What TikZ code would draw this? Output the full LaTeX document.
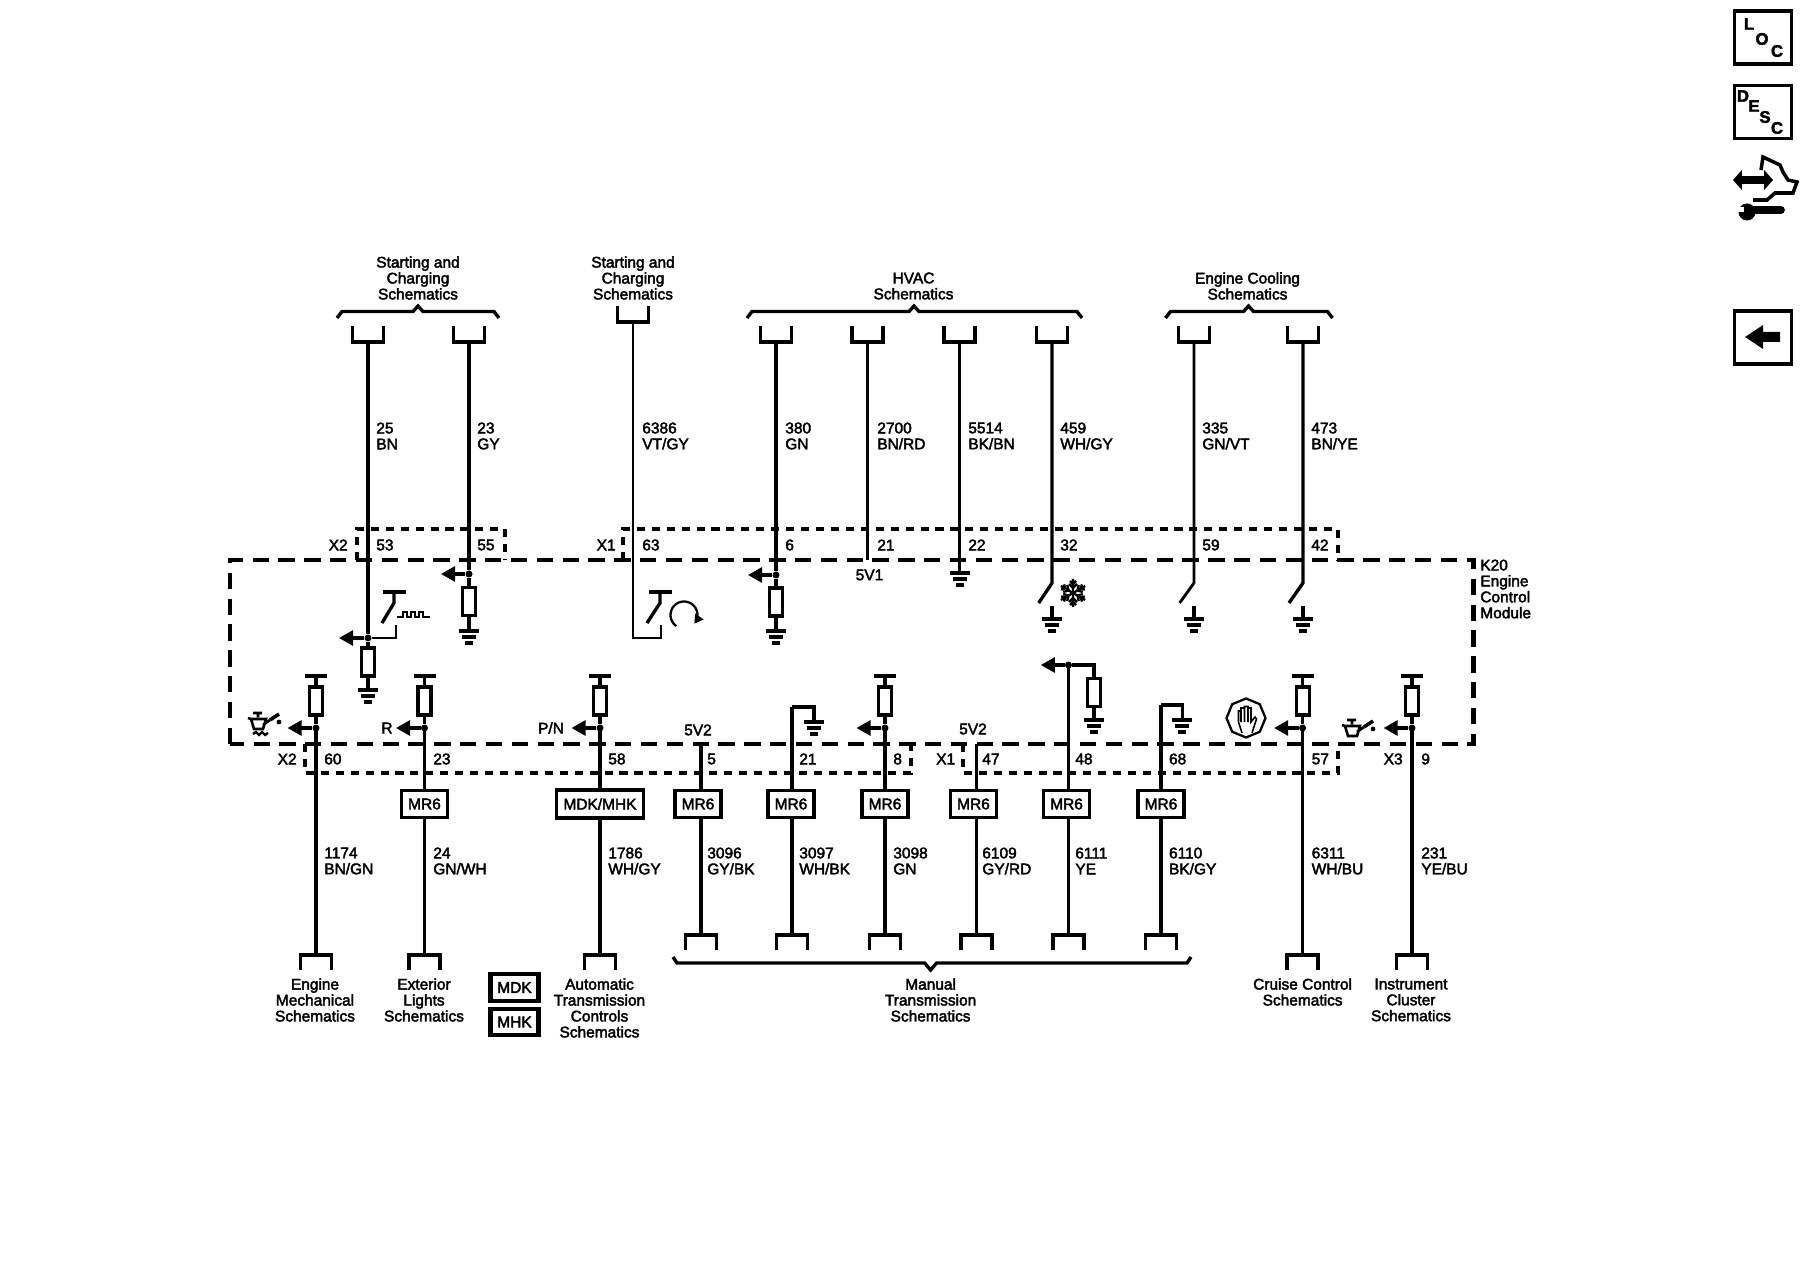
\documentclass[tikz,border=0pt]{standalone}
\usepackage{fontspec}
\setmainfont[FakeBold=2.5]{Liberation Sans}
\usetikzlibrary{arrows.meta,shapes.geometric}
\tikzset{
	txt/.style={font=\fontsize{8.8}{9.07}\selectfont,inner sep=0pt,align=center},
	wire/.style={line width=1.9pt},
	thin wire/.style={line width=1.6pt},
	bar/.style={line width=1.9pt},
	res/.style={draw,fill=white,line width=1.8pt,inner sep=0pt,minimum width=0.26cm,minimum height=0.56cm},
	dot/.style={circle,fill=black,inner sep=0pt,minimum size=0.14cm},
	sig/.style={line width=1.8pt,-{Triangle[length=8pt,width=8.5pt]}},
	mod/.style={line width=2.3pt,dash pattern=on 9.3pt off 5.4pt},
	plug/.style={line width=1.8pt,dash pattern=on 4.6pt off 3.9pt},
	optbox/.style={txt,draw,fill=white,line width=2pt,minimum width=0.92cm,minimum height=0.54cm},
	iconbox/.style={draw,line width=1.9pt,inner sep=0pt,minimum width=1.14cm,minimum height=1.06cm},
	iconchar/.style={font=\fontsize{9.5}{10}\selectfont\bfseries,inner sep=0pt}
}
% ground with three bars
\newcommand{\gndsym}[1]{\draw[bar] (#1) +(-10,0) -- +(10,0) +(-7,6) -- +(7,6) +(-4,12) -- +(4,12);}
\newcommand{\topbrace}[3]{\draw[wire] (#1,318) -- (#1+5,311.5) -- (#2-5,311.5) -- (#2,306) -- (#2+5,311.5) -- (#3-5,311.5) -- (#3,318);}
\newcommand{\oilcan}[2]{\begin{scope}[shift={(#1,#2)}]
	\draw[line width=1.5pt] (5,0) -- (14,0) (10,0) -- (10,4) (0,5) -- (3,6) -- (18,6) -- (15,16) -- (6,16) -- (3,6) (15,12) -- (22,7);
	\draw[line width=2pt] (22,7) -- (31,1);
	\fill (31,9) circle (2.4);
\end{scope}}
\begin{document}
\begin{tikzpicture}[x=0.02cm,y=-0.02cm]
\useasboundingbox (0,0) rectangle (1800,1280);
\fill[white] (0,0) rectangle (1800,1280);

% wires coming in from the top
\foreach \pin/\wx/\lx/\circ/\colour/\cy in {53/368/376/25/BN/342,55/469/477/23/GY/342,63/633/642/6386/{VT/GY}/322,6/776/785/380/GN/342,21/867.5/877/2700/{BN/RD}/342,22/959.5/968/5514/{BK/BN}/342,32/1052/1060/459/{WH/GY}/342,59/1194/1202/335/{GN/VT}/342,42/1303/1311/473/{BN/YE}/342}
{
	\coordinate (t\pin) at (\wx,\cy);
	\draw[wire] (t\pin) +(-15.5,-16) -- +(-15.5,0) -- +(15.5,0) -- +(15.5,-16);
	\node[txt,anchor=west,align=left] (n\pin) at (\lx,436) {\circ\\\colour};
	\node[txt,anchor=west] (p\pin) at (\lx,545) {\pin};
}

\topbrace{337}{418}{499}
\topbrace{747}{914}{1082}
\topbrace{1165.5}{1248.5}{1332.5}
\node[txt] (start1) at (418,278) {Starting and\\Charging\\Schematics};
\node[txt] (start2) at (633,278) {Starting and\\Charging\\Schematics};
\node[txt] (hvac) at (913.5,286) {HVAC\\Schematics};
\node[txt] (cool) at (1247.5,286) {Engine Cooling\\Schematics};

% module and connector outlines
\draw[mod] (230,744) -- (230,560) -- (1473.5,560) -- (1473.5,744) -- cycle;
\draw[plug] (357,560) -- (357,529) -- (505,529) -- (505,560);
\draw[plug] (623,560) -- (623,529) -- (1338,529) -- (1338,560);
\draw[plug] (305,744) -- (305,773) -- (911,773) -- (911,744);
\draw[plug] (963,744) -- (963,773) -- (1338,773) -- (1338,744);
\node[txt,anchor=east] (x2top) at (348,545) {X2};
\node[txt,anchor=east] (x1top) at (616,545) {X1};
\node[txt,anchor=east] (x2bot) at (297,759) {X2};
\node[txt,anchor=east] (x1bot) at (955.5,759) {X1};
\node[txt,anchor=east] (x3bot) at (1403,759) {X3};
\node[txt,anchor=west,align=left] (k20) at (1480,589) {K20\\Engine\\Control\\Module};

% inside the module, upper row
\node[dot] (d53) at (368,638) {};
\node[res] (r53) at (368,662) {};
\coordinate (g53) at (368,690);
\coordinate (a53) at (339,638);
\draw[wire] (t53) -- (d53) -- (r53) -- (g53);
\draw[sig] (d53) -- (a53);
\gndsym{g53}
\coordinate (s53) at (396,625);
\coordinate (k53) at (394,592);
\draw[thin wire] (d53) -| (s53);
\draw[wire] (382,623) -- (394,603) -- (k53);
\draw[bar] (383,592) -- (406,592);
\draw[line width=1.5pt] (397,617) -- (403,617) -- (403,612) -- (407,612) -- (407,617) -- (411,617) -- (411,612) -- (415,612) -- (415,617) -- (419,617) -- (419,612) -- (423,612) -- (423,617) -- (430,617);

\node[dot] (d55) at (469,574) {};
\node[res] (r55) at (469,601.5) {};
\coordinate (g55) at (469,631);
\coordinate (a55) at (441,574);
\draw[wire] (t55) -- (d55) -- (r55) -- (g55);
\draw[sig] (d55) -- (a55);
\gndsym{g55}

\coordinate (c63) at (633,638);
\coordinate (s63) at (661,625);
\draw[thin wire] (t63) -- (c63) -| (s63);
\draw[wire] (647,623) -- (660,603) -- (660,592);
\draw[bar] (649,592) -- (672,592);
\draw[line width=1.3pt,-{Triangle[length=5pt,width=5.5pt]}] plot[domain=235:-40,samples=30] ({684+13.5*cos(\x)},{615-13.5*sin(\x)});

\node[dot] (d6) at (776,575) {};
\node[res] (r6) at (776,602) {};
\coordinate (g6) at (776,631);
\coordinate (a6) at (748,575);
\draw[wire] (t6) -- (d6) -- (r6) -- (g6);
\draw[sig] (d6) -- (a6);
\gndsym{g6}

\coordinate (e21) at (867.5,560);
\draw[thin wire] (t21) -- (e21);
\node[txt] (v51) at (869.5,575) {5V1};

\coordinate (g22) at (959.5,573);
\draw[wire] (t22) -- (g22);
\gndsym{g22}

% switches to ground
\foreach \pin/\wx/\bx/\lw in {32/1052/1038.7/1.9,59/1194/1179.6/1.6,42/1303/1289/1.9}
{
	\coordinate (w\pin) at (\wx,583);
	\coordinate (b\pin) at (\wx,606);
	\coordinate (g\pin) at (\wx,619);
	\draw[line width=\lw pt] (t\pin) -- (w\pin) -- (\bx,603);
	\draw[wire] (b\pin) -- (g\pin);
	\gndsym{g\pin}
}
% snowflake
\foreach \a in {30,90,150,210,270,330}
{
	\begin{scope}[shift={(1073,593)},rotate=\a]
		\draw[line width=1.3pt] (0,0) -- (14,0) (5,0) -- (9,4) (5,0) -- (9,-4) (9,0) -- (12,3) (9,0) -- (12,-3);
	\end{scope}
}

% wires leaving at the bottom
\foreach \pin/\wx/\lx/\circ/\colour/\sy/\cy/\lw in {60/316/324/1174/{BN/GN}/728/955/1.9,23/424.5/433/24/{GN/WH}/728/955/1.6,58/600/608/1786/{WH/GY}/728/955/1.9,5/701/707/3096/{GY/BK}/744/935/1.8,21/792/799/3097/{WH/BK}/707/935/1.8,8/885/893/3098/GN/728/935/1.8,47/976.5/982/6109/{GY/RD}/744/935/1.9,48/1068.5/1075/6111/YE/665/935/1.9,68/1161/1168.7/6110/{BK/GY}/705/935/1.9,57/1302.6/1311.4/6311/{WH/BU}/728/955/1.9,9/1412/1421/231/{YE/BU}/728/955/1.9}
{
	\coordinate (s\pin) at (\wx,\sy);
	\coordinate (c\pin) at (\wx,\cy);
	\draw[line width=\lw pt] (s\pin) -- (c\pin);
	\draw[wire] (c\pin) +(-15.5,15) -- +(-15.5,0) -- +(15.5,0) -- +(15.5,15);
	\node[txt,anchor=west,align=left] (m\pin) at (\lx,861) {\circ\\\colour};
	\node[txt,anchor=west] (q\pin) at (\lx,759) {\pin};
}

% pull-ups
\foreach \pin/\wx in {60/316,23/424.5,58/600,8/885,57/1302.6,9/1412}
{
	\coordinate (v\pin) at (\wx,676);
	\node[res] (r\pin) at (\wx,701) {};
	\node[dot] (d\pin) at (\wx,728) {};
	\coordinate (a\pin) at (\wx-28.5,728);
	\draw[bar] (v\pin) +(-11,0) -- +(11,0);
	\draw[wire] (v\pin) -- (r\pin) -- (d\pin);
	\draw[sig] (d\pin) -- (a\pin);
}

\node[txt] (rlab) at (387,728) {R};
\node[txt] (pnlab) at (551,728) {P/N};
\node[txt] (v52a) at (698,730) {5V2};
\node[txt] (v52b) at (973,729) {5V2};

% hooks to ground
\coordinate (h21) at (814,707);
\coordinate (g21) at (814,722);
\draw[wire] (s21) -- (h21) -- (g21);
\gndsym{g21}
\coordinate (h68) at (1182.4,705);
\coordinate (g68) at (1182.4,720);
\draw[wire] (s68) -- (h68) -- (g68);
\gndsym{g68}
\node[dot] (d48) at (1068.5,665) {};
\coordinate (a48) at (1040.8,665);
\coordinate (h48) at (1094,665);
\node[res] (r48) at (1094,692.5) {};
\coordinate (g48) at (1094,720);
\draw[sig] (d48) -- (a48);
\draw[wire] (d48) -- (h48) -- (r48) -- (g48);
\gndsym{g48}

% option boxes
\foreach \pin/\bx in {23/424.5,5/698,21/791,8/885,47/973.5,48/1066.6,68/1161}
	\node[optbox] (mr\pin) at (\bx,804) {MR6};
\node[optbox,minimum width=1.74cm,minimum height=0.56cm] (mr58) at (600,804) {MDK/MHK};
\node[optbox,line width=2.3pt,minimum width=0.96cm,minimum height=0.54cm] (mdk) at (514.5,987.5) {MDK};
\node[optbox,line width=2.3pt,minimum width=0.96cm,minimum height=0.52cm] (mhk) at (514.5,1022) {MHK};

% schematics at the bottom
\node[txt] (engmech) at (315,1000) {Engine\\Mechanical\\Schematics};
\node[txt] (extlight) at (424,1000) {Exterior\\Lights\\Schematics};
\node[txt] (autotrans) at (599.5,1008) {Automatic\\Transmission\\Controls\\Schematics};
\node[txt] (mantrans) at (930.6,1000) {Manual\\Transmission\\Schematics};
\node[txt] (cruise) at (1302.6,992) {Cruise Control\\Schematics};
\node[txt] (cluster) at (1411,1000) {Instrument\\Cluster\\Schematics};
\draw[wire] (673,957) -- (677,963) -- (924.6,963) -- (930.6,970) -- (936.6,963) -- (1187,963) -- (1191,957);

% icons
\oilcan{248}{713}
\draw[line width=1.4pt] (253,734) -- (256,732) -- (259,735) -- (262,732) -- (265,735) -- (268,733);
\oilcan{1342}{720}
\node[draw,regular polygon,regular polygon sides=8,shape border rotate=22.5,line width=1.3pt,inner sep=0pt,minimum size=0.78cm] (stophand) at (1246,718) {};
\draw[line width=0.9pt] (1242,733) -- (1238.5,722) -- (1238.5,711) -- (1241,711) -- (1241,722) (1241,711) -- (1241,708) -- (1244.5,708) -- (1244.5,722) (1244.5,708) -- (1244.5,706.5) -- (1248,706.5) -- (1248,722) (1248,708) -- (1251,708) -- (1251,722) -- (1255,717) -- (1256.5,719) -- (1252,733);

% buttons at the right
\node[iconbox] (locbox) at (1763,37.5) {};
\node[iconchar] (locl) at (1749,24) {L};
\node[iconchar] (loco) at (1762,39) {O};
\node[iconchar] (locc) at (1777,51) {C};
\node[iconbox] (descbox) at (1763,112) {};
\node[iconchar] (descd) at (1743,96) {D};
\node[iconchar] (desce) at (1754,106) {E};
\node[iconchar] (descs) at (1765,117) {S};
\node[iconchar] (descc) at (1777,128) {C};
\draw[line width=4pt,{Triangle[length=5pt,width=11pt]}-{Triangle[length=5pt,width=11pt]}] (1733,180) -- (1773,180);
\draw[line width=2pt] (1761,170) -- (1763,157) -- (1780,165) -- (1783,172) -- (1788,180) -- (1797,182) -- (1793,193) -- (1775,193) -- (1767,200) -- (1753,200);
\draw[line width=4.4pt,line cap=round] (1750,210) -- (1781,210);
\fill (1747,212) circle (8.5);
\fill[white] (1738,207) rectangle (1744,212);
\node[iconbox] (backbox) at (1763,337.5) {};
\fill (1745,337) -- (1763,325) -- (1763,332) -- (1780,332) -- (1780,342) -- (1763,342) -- (1763,349) -- cycle;
\end{tikzpicture}
\end{document}
